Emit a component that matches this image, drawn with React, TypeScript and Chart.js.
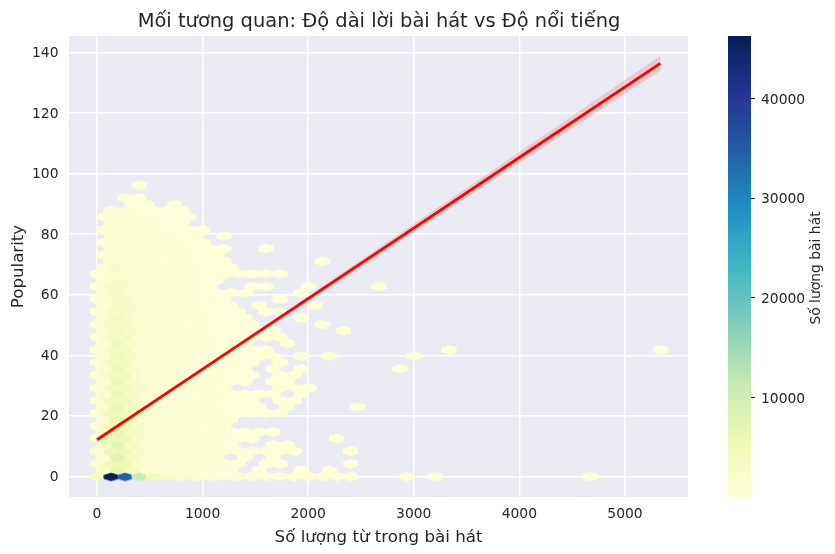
import React, { useEffect, useRef } from "react";
import { Chart, registerables } from "chart.js";

Chart.register(...registerables);

const chartTitle = "Mối tương quan: Độ dài lời bài hát vs Độ nổi tiếng";
const xAxisTitle = "Số lượng từ trong bài hát";
const yAxisTitle = "Popularity";
const colorbarTitle = "Số lượng bài hát";
const xTicks = [0, 1000, 2000, 3000, 4000, 5000];
const yTicks = [0, 20, 40, 60, 80, 100, 120, 140];
const colorbarTicks = [10000, 20000, 30000, 40000];

// Hex cell width / half row height, in data units
const hexStepX = 133.4;
const hexStepY = 2.09;
const countMin = 1;
const countMax = 46300;

// Counts per hex row (bottom to top); index = hex column, 0 = no hex
const hexRows: number[][] = [
  [3600, 46200, 34500, 11000, 4600, 2600, 1700, 1200, 850, 620, 460, 330, 240, 170, 120, 70, 40, 20, 8],
  [2300, 7200, 3400, 1700, 1100, 720, 480, 340, 230, 160, 0, 30, 0, 0, 6, 0, 3],
  [1500, 5200, 5600, 2300, 1400, 900, 600, 420, 290, 190, 110, 0, 18, 9, 0, 0, 0, 0, 2],
  [2500, 7800, 3800, 1900, 1200, 780, 520, 360, 240, 0, 60, 0, 8],
  [1400, 5600, 5700, 2400, 1500, 950, 640, 440, 300, 200, 130, 70, 40, 18, 6, 0, 0, 0, 1],
  [2400, 7500, 3700, 1900, 1250, 800, 530, 360, 240, 150, 0, 0, 6, 3],
  [1300, 5400, 5500, 2400, 1500, 960, 640, 440, 300, 200, 120, 50, 0, 0, 0, 0, 0, 1],
  [2300, 7000, 3500, 1850, 1200, 790, 520, 350, 230, 140, 70, 30, 6],
  [1250, 5000, 5100, 2300, 1450, 930, 630, 430, 290, 180],
  [2200, 6700, 3300, 1800, 1170, 770, 510, 340, 220, 130],
  [1200, 4800, 4900, 2250, 1400, 900, 610, 410, 270, 170, 90, 40, 15, 4],
  [2100, 6400, 3200, 1750, 1150, 750, 500, 330, 210, 120, 60, 20, 0, 3],
  [1100, 4600, 4700, 2200, 1370, 880, 590, 390, 250, 150, 80, 30, 0, 6, 2],
  [2000, 6100, 3100, 1700, 1120, 730, 480, 320, 200, 110, 50, 18, 6, 0, 2],
  [1000, 4400, 4500, 2100, 1340, 860, 570, 370, 240, 130, 0, 0, 0, 5, 4, 2],
  [1900, 5800, 3000, 1650, 1080, 700, 460, 300, 190, 100, 45, 0, 6, 4],
  [950, 4100, 4300, 2000, 1300, 830, 550, 350, 220, 120, 60, 20, 0, 5, 3],
  [1800, 5400, 2900, 1600, 1040, 680, 440, 290, 180, 90, 40, 0, 6, 0, 2],
  [900, 3800, 4000, 1900, 1250, 800, 530, 340, 210, 110, 50, 20, 0, 3],
  [1700, 5100, 2700, 1500, 1000, 650, 420, 270, 170, 90, 45, 20, 6, 0, 2],
  [800, 3600, 3800, 1800, 1200, 770, 500, 320, 200, 110, 50, 22, 6],
  [1550, 4800, 2600, 1450, 950, 620, 400, 260, 160, 80, 30, 0, 0, 3],
  [750, 3400, 3500, 1700, 1150, 730, 480, 300, 190, 100, 45, 20, 8, 3],
  [1450, 4400, 2400, 1400, 900, 590, 380, 240, 150, 80, 40, 15, 4],
  [650, 3100, 3200, 1600, 1080, 700, 450, 290, 180, 90, 40, 12],
  [1300, 4000, 2300, 1300, 850, 560, 360, 230, 140, 70, 20, 0, 0, 0, 2],
  [550, 2800, 2900, 1500, 1000, 650, 420, 270, 160, 80, 25, 0, 4, 2],
  [1150, 3600, 2100, 1200, 800, 520, 340, 210, 120, 50, 0, 3],
  [480, 2500, 2600, 1350, 930, 600, 390, 240, 140, 50, 0, 0, 0, 2],
  [1000, 3100, 1900, 1100, 740, 480, 310, 190, 100, 40, 10, 0, 0, 0, 2],
  [400, 2200, 2300, 1200, 850, 550, 350, 210, 80, 0, 0, 3, 2],
  [800, 2700, 1700, 1000, 660, 430, 270, 160, 60],
  [320, 1900, 2000, 1050, 750, 480, 300, 170, 70, 30, 10, 4, 3, 1],
  [650, 2300, 1450, 850, 580, 370, 230, 130, 50, 15],
  [0, 1500, 1600, 900, 640, 400, 240, 130, 50, 15],
  [480, 1800, 1200, 720, 480, 300, 180, 90, 25],
  [0, 1100, 1250, 730, 520, 320, 180, 80, 25, 6, 0, 0, 1],
  [300, 1300, 900, 560, 370, 220, 120, 40],
  [0, 750, 850, 530, 370, 220, 100, 20, 0, 1],
  [180, 950, 620, 400, 250, 130, 60, 10],
  [0, 430, 520, 330, 210, 100, 30],
  [90, 480, 350, 230, 130, 55, 12],
  [0, 170, 230, 150, 85, 30, 5],
  [0, 0, 60, 40, 0, 4],
  [0, 0, 10, 8],
  [],
  [0, 0, 0, 1],
];

// Isolated far-out hexes: [row, column, count]
const strayCells: number[][] = [
  [0, 22, 2], [0, 24, 2], [0, 35, 2],
  [4, 18, 1], [11, 18, 1], [17, 21, 1], [19, 16, 1], [19, 22, 1],
  [20, 25, 1], [20, 40, 1], [23, 17, 1], [24, 16, 1], [27, 15, 1],
  [29, 14, 1], [30, 15, 1], [30, 20, 1], [34, 16, 1], [14, 15, 1],
];

const regressionX = [0, 1000, 2000, 3000, 4000, 5335];
const regressionY = [12.1, 35.4, 58.7, 82.0, 105.3, 136.4];
const bandUpper = [12.35, 35.8, 59.55, 83.35, 107.15, 138.9];
const bandLower = [11.85, 35.0, 57.85, 80.65, 103.45, 133.9];

const colormapStops = ["#ffffd9", "#edf8b1", "#c7e9b4", "#7fcdbb", "#41b6c4", "#1d91c0", "#225ea8", "#253494", "#081d58"];

function hexToRgb(h: string) {
  return [parseInt(h.slice(1, 3), 16), parseInt(h.slice(3, 5), 16), parseInt(h.slice(5, 7), 16)];
}

function colorFor(count: number) {
  const t = Math.min(1, Math.max(0, (count - countMin) / (countMax - countMin))) * (colormapStops.length - 1);
  const i = Math.min(colormapStops.length - 2, Math.floor(t));
  const a = hexToRgb(colormapStops[i]);
  const b = hexToRgb(colormapStops[i + 1]);
  const f = t - i;
  return `rgb(${a.map((v, j) => Math.round(v + (b[j] - v) * f)).join(",")})`;
}

const hexCache = new Map<string, HTMLCanvasElement>();
function hexSprite(color: string) {
  let c = hexCache.get(color);
  if (c) return c;
  c = document.createElement("canvas");
  c.width = 22;
  c.height = 16;
  const g = c.getContext("2d")!;
  const hw = 7.03;
  const hh = 4.22;
  g.translate(11, 8);
  g.beginPath();
  g.moveTo(0, -hh);
  g.lineTo(hw, -hh / 2);
  g.lineTo(hw, hh / 2);
  g.lineTo(0, hh);
  g.lineTo(-hw, hh / 2);
  g.lineTo(-hw, -hh / 2);
  g.closePath();
  g.fillStyle = color;
  g.strokeStyle = color;
  g.lineWidth = 1;
  g.fill();
  g.stroke();
  hexCache.set(color, c);
  return c;
}

const plotBackground = {
  id: "plotBackground",
  beforeDraw(chart: any) {
    const { ctx, chartArea: a } = chart;
    ctx.save();
    ctx.fillStyle = "#eaeaf2";
    ctx.fillRect(a.left, a.top, a.right - a.left, a.bottom - a.top);
    ctx.restore();
  },
};

const colorbarLabel = {
  id: "colorbarLabel",
  afterDraw(chart: any) {
    const { ctx, chartArea: a } = chart;
    ctx.save();
    ctx.translate(116, (a.top + a.bottom) / 2 + 1.5);
    ctx.rotate(-Math.PI / 2);
    ctx.font = '13.89px "DejaVu Sans"';
    ctx.fillStyle = "#262626";
    ctx.textAlign = "center";
    ctx.textBaseline = "middle";
    ctx.fillText(colorbarTitle, 0, 0);
    ctx.restore();
  },
};

const FONT = '"DejaVu Sans"';
const INK = "#262626";
const plain = (v: any) => String(v);

export default function App() {
  const mainRef = useRef<HTMLCanvasElement>(null);
  const barRef = useRef<HTMLCanvasElement>(null);

  useEffect(() => {
    const points: { x: number; y: number }[] = [];
    const styles: HTMLCanvasElement[] = [];
    const add = (r: number, k: number, n: number) => {
      points.push({ x: (k + (r % 2 ? 0.5 : 0)) * hexStepX, y: r * hexStepY });
      styles.push(hexSprite(colorFor(n)));
    };
    hexRows.forEach((row, r) => row.forEach((n, k) => { if (n > 0) add(r, k, n); }));
    strayCells.forEach(([r, k, n]) => add(r, k, n));

    const xy = (ys: number[]) => regressionX.map((x, i) => ({ x, y: ys[i] }));

    const main = new Chart(mainRef.current!, {
      type: "scatter",
      data: {
        datasets: [
          { type: "line", label: "fit", data: xy(regressionY), borderColor: "#ff0000", borderWidth: 2.78, pointRadius: 0, fill: false, order: 0 },
          { type: "line", label: "upper", data: xy(bandUpper), borderWidth: 0, borderColor: "rgba(0,0,0,0)", pointRadius: 0, fill: "+1", backgroundColor: "rgba(255,0,0,0.15)", order: 1 },
          { type: "line", label: "lower", data: xy(bandLower), borderWidth: 0, borderColor: "rgba(0,0,0,0)", pointRadius: 0, fill: false, order: 1 },
          { type: "scatter", label: "hexbin", data: points, pointStyle: styles, pointRadius: 5, order: 2 },
        ] as any,
      },
      options: {
        responsive: false,
        animation: false,
        events: [],
        layout: { padding: { left: 0, right: 77, top: 0, bottom: 0 } },
        plugins: {
          legend: { display: false },
          tooltip: { enabled: false },
          title: {
            display: true,
            text: chartTitle,
            color: INK,
            font: { family: FONT, size: 19.44, weight: "normal" },
            padding: { top: 9.8, bottom: 2.9 },
          },
        },
        scales: {
          x: {
            type: "linear",
            min: -265,
            max: 5597,
            afterFit: (s: any) => { s.height = 57; },
            afterBuildTicks: (s: any) => { s.ticks = xTicks.map((value) => ({ value })); },
            ticks: { callback: plain, color: INK, maxRotation: 0, autoSkip: false, padding: 9, font: { family: FONT, size: 13.89 } },
            grid: { color: "#ffffff", lineWidth: 1.39, drawTicks: false },
            border: { display: false },
            title: { display: true, text: xAxisTitle, color: INK, padding: { top: 0, bottom: 6 }, font: { family: FONT, size: 16.67 } },
          },
          y: {
            type: "linear",
            min: -6.8,
            max: 145.4,
            afterFit: (s: any) => { s.width = 69; },
            afterBuildTicks: (s: any) => { s.ticks = yTicks.map((value) => ({ value })); },
            ticks: { callback: plain, color: INK, autoSkip: false, padding: 10.5, labelOffset: 1, font: { family: FONT, size: 13.89 } },
            grid: { color: "#ffffff", lineWidth: 1.39, drawTicks: false },
            border: { display: false },
            title: { display: true, text: yAxisTitle, color: INK, padding: { top: 9, bottom: 0 }, font: { family: FONT, size: 16.67 } },
          },
          yPad: {
            type: "linear",
            position: "right",
            display: true,
            afterFit: (s: any) => { s.width = 70; },
            ticks: { display: false },
            grid: { display: false },
            border: { display: false },
          },
        },
      } as any,
      plugins: [plotBackground],
    });

    const bar = new Chart(barRef.current!, {
      type: "bar",
      data: {
        labels: [colorbarTitle],
        datasets: [
          {
            label: colorbarTitle,
            data: [[countMin, countMax]],
            barPercentage: 1,
            categoryPercentage: 1,
            borderWidth: 0,
            backgroundColor: (ctx: any) => {
              const a = ctx.chart.chartArea;
              if (!a) return colormapStops[0];
              const g = ctx.chart.ctx.createLinearGradient(0, a.bottom, 0, a.top);
              colormapStops.forEach((c, i) => g.addColorStop(i / (colormapStops.length - 1), c));
              return g;
            },
          },
        ] as any,
      },
      options: {
        responsive: false,
        animation: false,
        events: [],
        layout: { padding: { left: 28, right: 0, top: 36, bottom: 57 } },
        plugins: { legend: { display: false }, tooltip: { enabled: false }, title: { display: false } },
        scales: {
          x: { display: false, type: "category" },
          y: {
            type: "linear",
            position: "right",
            min: countMin,
            max: countMax,
            afterFit: (s: any) => { s.width = 84; },
            afterBuildTicks: (s: any) => { s.ticks = colorbarTicks.map((value) => ({ value })); },
            ticks: { callback: plain, color: INK, padding: 6, labelOffset: 1.5, font: { family: FONT, size: 13.89 } },
            grid: { drawOnChartArea: false, drawTicks: true, tickLength: 4, tickColor: INK, lineWidth: 1 },
            border: { display: false },
          },
        },
      } as any,
      plugins: [colorbarLabel],
    });

    return () => {
      main.destroy();
      bar.destroy();
    };
  }, []);

  return (
    <div style={{ position: "fixed", left: 0, top: 0, width: 835, height: 554, background: "#fff" }}>
      <canvas ref={mainRef} width={835} height={554} style={{ position: "absolute", left: 0, top: 0, display: "block" }} />
      <canvas ref={barRef} width={135} height={554} style={{ position: "absolute", left: 700, top: 0, display: "block" }} />
    </div>
  );
}
